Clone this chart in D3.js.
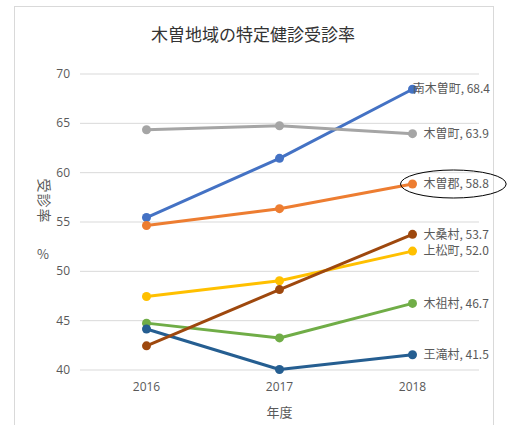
<!DOCTYPE html>
<html>
<head>
<meta charset="utf-8">
<script src="https://cdn.jsdelivr.net/npm/d3@7"></script>
<style>
  html, body { margin: 0; padding: 0; background: #fff; }
  svg { display: block; font-family: "Noto Sans CJK JP", "Noto Sans", sans-serif; }
</style>
</head>
<body>
<svg id="chart" width="507" height="425"></svg>
<script>
// Fiscal years on the x axis
const years = ["2016", "2017", "2018"];
const yTicks = [40, 45, 50, 55, 60, 65, 70];

// Screening rate (%) per municipality
const nagiso   = [55.4, 61.4, 68.4];   // 南木曽町
const kisoGun  = [54.6, 56.3, 58.8];   // 木曽郡
const kisoMachi = [64.3, 64.7, 63.9];  // 木曽町
const agematsu = [47.4, 49.0, 52.0];   // 上松町
const kisoMura = [44.7, 43.2, 46.7];   // 木祖村
const otaki    = [44.1, 40.0, 41.5];   // 王滝村
const okuwa    = [42.4, 48.1, 53.7];   // 大桑村

const names  = ["南木曽町", "木曽郡", "木曽町", "上松町", "木祖村", "王滝村", "大桑村"];
const colors = ["#4472C4", "#ED7D31", "#A5A5A5", "#FFC000", "#70AD47", "#255E91", "#9E480E"];
const values = [nagiso, kisoGun, kisoMachi, agematsu, kisoMura, otaki, okuwa];

const series = names.map((name, i) => ({ name, color: colors[i], values: values[i] }));

const svg = d3.select("#chart");

// Chart area frame
svg.append("rect")
  .attr("x", 14.5).attr("y", 6.5)
  .attr("width", 479).attr("height", 430)
  .attr("fill", "#fff").attr("stroke", "#d9d9d9").attr("stroke-width", 1);

const plotLeft = 80, plotRight = 479;
const x = d3.scaleBand().domain(years).range([plotLeft, plotRight]).padding(0);
const y = d3.scaleLinear().domain([40, 70]).range([369.5, 73.5]);
const cx = d => x(d) + x.bandwidth() / 2;

// Title
svg.append("text")
  .attr("x", 253).attr("y", 41)
  .attr("text-anchor", "middle")
  .attr("font-size", 17)
  .attr("fill", "#333")
  .text("木曽地域の特定健診受診率");

// Y axis with gridlines
const yAxis = svg.append("g")
  .attr("transform", `translate(${plotLeft},0)`)
  .call(d3.axisLeft(y).tickValues(yTicks).tickSize(-(plotRight - plotLeft)).tickPadding(10));
yAxis.select(".domain").remove();
yAxis.selectAll(".tick line").attr("stroke", "#d9d9d9").attr("stroke-width", 1);
yAxis.selectAll(".tick text").attr("fill", "#595959").attr("font-size", 12)
  .attr("font-family", "'Open Sans', sans-serif");

// X axis labels
const xAxis = svg.append("g")
  .attr("transform", `translate(0,${y(40)})`)
  .call(d3.axisBottom(x).tickSize(0).tickPadding(13));
xAxis.select(".domain").remove();
xAxis.selectAll(".tick text").attr("fill", "#595959").attr("font-size", 12)
  .attr("font-family", "'Open Sans', sans-serif");

// Axis titles
svg.append("text")
  .attr("x", 279.5).attr("y", 417)
  .attr("text-anchor", "middle")
  .attr("font-size", 13).attr("fill", "#595959")
  .text("年度");

svg.append("text")
  .attr("transform", "translate(38.5,201) rotate(90)")
  .attr("text-anchor", "middle")
  .attr("font-size", 14).attr("fill", "#595959")
  .attr("letter-spacing", 1)
  .text("受診率");

svg.append("text")
  .attr("x", 43).attr("y", 259)
  .attr("text-anchor", "middle")
  .attr("font-size", 13).attr("fill", "#595959")
  .text("%");

// Lines and markers
const line = d3.line().x((v, i) => cx(years[i])).y(v => y(v));

const g = svg.selectAll("g.series").data(series).join("g").attr("class", "series");

g.append("path")
  .attr("d", d => line(d.values))
  .attr("fill", "none")
  .attr("stroke", d => d.color)
  .attr("stroke-width", 3)
  .attr("stroke-linejoin", "round");

g.selectAll("circle")
  .data(d => d.values.map((v, i) => ({ v, i, color: d.color })))
  .join("circle")
  .attr("cx", d => cx(years[d.i]))
  .attr("cy", d => y(d.v))
  .attr("r", 4.5)
  .attr("fill", d => d.color);

// Data labels at the last year
const last = years.length - 1;
const labelMaxRight = 490;
const labels = svg.selectAll("text.dlabel").data(series).join("text")
  .attr("class", "dlabel")
  .attr("y", d => y(d.values[last]))
  .attr("dy", "0.35em")
  .attr("font-size", 12)
  .attr("fill", "#595959")
  .text(d => `${d.name}, ${d.values[last].toFixed(1)}`);

labels.each(function () {
  const w = this.getComputedTextLength();
  const left = Math.min(cx(years[last]) + 11, labelMaxRight - w);
  d3.select(this).attr("x", left);
});

// Highlight ring around the district total
const gunLabel = labels.filter(d => d.name === "木曽郡").node();
const bb = gunLabel.getBBox();
svg.append("ellipse")
  .attr("cx", bb.x + bb.width / 2 - 3)
  .attr("cy", y(kisoGun[last]))
  .attr("rx", bb.width / 2 + 20)
  .attr("ry", 14)
  .attr("fill", "none")
  .attr("stroke", "#000")
  .attr("stroke-width", 1);
</script>
</body>
</html>
